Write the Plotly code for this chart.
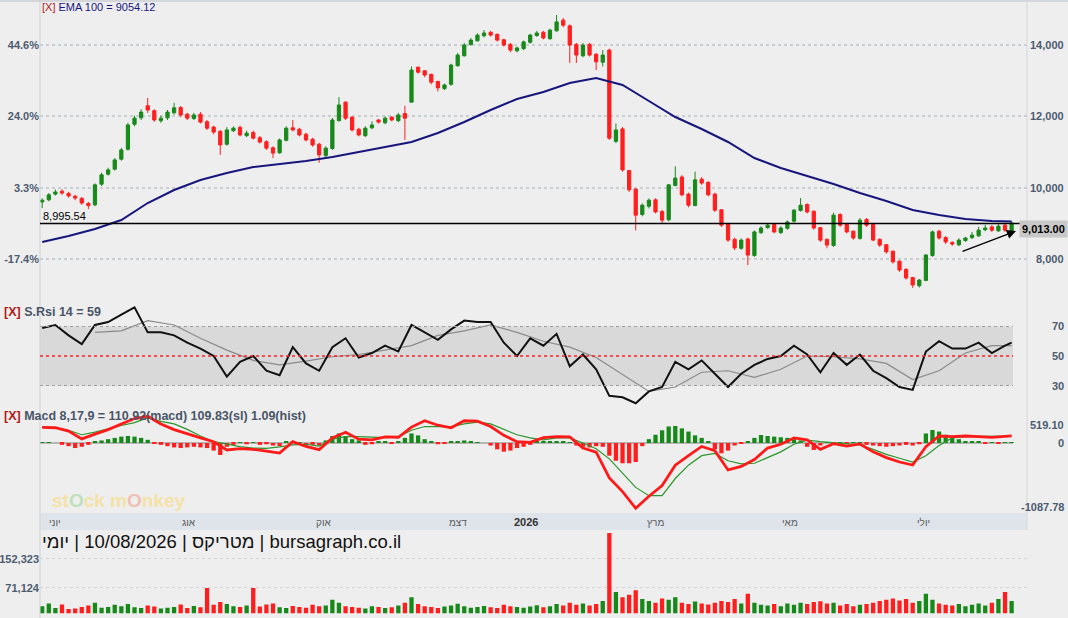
import pandas as pd
import plotly.graph_objects as go

# daily chart, one candle for every 3 calendar days
dates = pd.date_range("2025-05-26", "2026-08-10", freq="3D")

opens = [9600, 9660, 9820, 9900, 9840, 9760, 9700, 9560, 9520, 10100,
         10380, 10520, 10800, 11080, 11780, 11960, 12300, 12160, 11880, 11960,
         12100, 12250, 12060, 11940, 12060, 11850, 11700, 11580, 11220, 11600,
         11690, 11460, 11550, 11400, 11290, 11120, 10980, 11330, 11680, 11640,
         11500, 11360, 11220, 10900, 11100, 11880, 12400, 11980, 11640, 11460,
         11680, 11900, 11820, 11980, 11880, 12080, 12400, 13380, 13280, 13180,
         12980, 12780, 12900, 13420, 13700, 14020, 14120, 14260, 14360, 14300,
         14150, 14020, 13840, 13900, 14080, 14270, 14360, 14180, 14400, 14700,
         14540, 14020, 13700, 14020, 13740, 13520, 13860, 11300, 11650, 10480,
         9960, 9250, 9480, 9660, 9330, 9100, 10060, 10300, 9820, 9500,
         10240, 10150, 9820, 9380, 8980, 8550, 8300, 8560, 8100, 8740,
         8880, 8970, 8740, 8860, 9060, 9360, 9530, 9340, 8880, 8550,
         8380, 9250, 8970, 8780, 8580, 9110, 8970, 8550, 8400, 8220,
         7940, 7710, 7480, 7250, 7400, 8100, 8780, 8600, 8460, 8400,
         8520, 8600, 8650, 8820, 8900, 8790, 8950, 8800]
highs = [9700, 9850, 9950, 9960, 9880, 9800, 9740, 9600, 10120, 10420,
         10560, 10830, 11120, 11820, 12020, 12200, 12520, 12200, 12020, 12180,
         12380, 12290, 12100, 12100, 12120, 11900, 11740, 11620, 11700, 11720,
         11740, 11600, 11600, 11450, 11330, 11160, 11380, 11720, 11900, 11680,
         11540, 11400, 11260, 11160, 11960, 12540, 12420, 12000, 11680, 11720,
         11860, 11920, 12000, 12000, 12100, 12300, 13400, 13400, 13300, 13200,
         13000, 12920, 13480, 13780, 14060, 14200, 14330, 14420, 14400, 14330,
         14180, 14060, 13960, 14130, 14320, 14400, 14400, 14460, 14844, 14760,
         14580, 14060, 14060, 14060, 13780, 13860, 13900, 11800, 11700, 10500,
         9990, 9560, 9700, 9700, 9380, 10100, 10600, 10350, 9860, 10450,
         10300, 10180, 9860, 9400, 9000, 8600, 8580, 8600, 8800, 8920,
         9000, 9000, 8920, 9080, 9400, 9710, 9560, 9360, 8900, 8580,
         9300, 9280, 9000, 8800, 9150, 9150, 9000, 8580, 8420, 8240,
         7960, 7740, 7500, 7440, 8140, 8800, 8820, 8640, 8500, 8580,
         8620, 8760, 8900, 8960, 8950, 8980, 9000, 9060]
lows = [9430, 9620, 9780, 9800, 9720, 9650, 9520, 9400, 9480, 10050,
        10340, 10480, 10760, 11040, 11720, 11900, 12100, 11850, 11820, 11900,
        12050, 11980, 11900, 11900, 11800, 11620, 11500, 10920, 11180, 11560,
        11440, 11420, 11350, 11240, 11060, 10830, 10950, 11300, 11580, 11440,
        11300, 11150, 10700, 10860, 11060, 11860, 11900, 11580, 11440, 11420,
        11640, 11800, 11780, 11860, 11840, 11340, 12400, 13200, 13100, 12900,
        12700, 12740, 12860, 13400, 13680, 13980, 14100, 14220, 14240, 14100,
        13960, 13800, 13800, 13860, 14040, 14230, 14160, 14150, 14380, 14500,
        13500, 13500, 13660, 13680, 13300, 13400, 11340, 11250, 10450, 9880,
        8800, 9200, 9420, 9280, 8980, 9060, 10040, 9760, 9450, 9480,
        10080, 9760, 9320, 8900, 8480, 8250, 8260, 7830, 8060, 8700,
        8850, 8720, 8700, 8820, 9020, 9330, 9280, 8820, 8480, 8300,
        8340, 8900, 8720, 8540, 8540, 8900, 8500, 8340, 8150, 7870,
        7640, 7420, 7190, 7200, 7380, 8060, 8540, 8420, 8370, 8360,
        8480, 8560, 8620, 8780, 8760, 8760, 8760, 8780]
closes = [9650, 9800, 9880, 9850, 9770, 9710, 9570, 9500, 10080, 10360,
          10500, 10780, 11060, 11760, 11950, 12120, 12180, 11900, 11950, 12120,
          12240, 12040, 11950, 12040, 11840, 11670, 11560, 11200, 11620, 11670,
          11480, 11530, 11390, 11280, 11110, 10970, 11340, 11670, 11620, 11480,
          11340, 11200, 10920, 11110, 11900, 12320, 11950, 11620, 11480, 11670,
          11760, 11840, 11950, 11900, 12040, 11950, 13300, 13240, 13160, 12960,
          12800, 12880, 13440, 13720, 14000, 14140, 14280, 14340, 14280, 14140,
          14000, 13860, 13920, 14090, 14280, 14340, 14200, 14420, 14650, 14560,
          14000, 13720, 14000, 13720, 13530, 13720, 11390, 11620, 10500, 9940,
          9230, 9510, 9650, 9320, 9090, 10080, 10270, 9800, 9510, 10220,
          10130, 9800, 9370, 8950, 8530, 8310, 8530, 8110, 8760, 8870,
          8950, 8760, 8870, 9040, 9370, 9510, 9320, 8870, 8530, 8390,
          9230, 8950, 8760, 8590, 9090, 8950, 8530, 8390, 8200, 7920,
          7690, 7470, 7270, 7410, 8110, 8760, 8590, 8480, 8420, 8530,
          8590, 8670, 8810, 8870, 8810, 8920, 8810, 9013]

# EMA 100, read every 4th candle
ema_vals = [8477, 8645, 8842, 9094, 9571, 9935, 10216, 10412, 10581, 10665,
            10749, 10861, 11001, 11142, 11282, 11534, 11843, 12179, 12488, 12684,
            12937, 13077, 12881, 12432, 11983, 11647, 11282, 10833, 10553, 10328,
            10104, 9851, 9627, 9374, 9234, 9122, 9066, 9054.12]
ema_dates = list(dates[::4]) + [dates[-1]]

ref_level = 8995.54
last_price = 9013.00
trend_x = ["2026-07-18", "2026-08-12"]
trend_y = [8196, 8785]

# RSI 14, every 2nd candle, and its moving average every 4th
rsi_vals = [69, 71, 64, 58, 71, 73, 78, 83, 66, 66,
            64, 59, 55, 50, 36, 46, 50, 40, 37, 56,
            45, 40, 56, 62, 49, 52, 57, 53, 71, 66,
            61, 68, 74, 73, 73, 59, 50, 62, 57, 65,
            43, 51, 41, 23, 22, 18, 26, 29, 46, 41,
            47, 38, 29, 38, 44, 48, 50, 57, 51, 39,
            52, 44, 51, 40, 35, 29, 27, 53, 60, 55,
            55, 59, 52, 57, 59]
rsi_dates = list(dates[::2]) + [dates[-1]]
rsi_ma = [66, 67, 74, 71, 62, 54, 47, 44, 46.5, 49.5,
          51, 54, 57, 64, 67, 71, 66, 60, 56, 49,
          37.5, 26, 29, 39, 40, 35.5, 41, 50, 49.5, 48,
          45, 34, 40, 52, 57, 57]
ma_dates = list(dates[8:145:4]) + [dates[-1]]

# MACD 8,17,9
macd_vals = [247, 240, 188, 65, 140, 210, 300, 385, 420, 300,
             210, 140, 80, 20, -110, -90, -100, -130, -160, 21,
             -55, -105, 80, 170, 60, 50, 95, 90, 250, 350,
             280, 240, 350, 345, 260, 120, 21, 10, 85, 100,
             95, -80, -145, -550, -767, -1029, -840, -670, -350, -200,
             -55, -120, -425, -370, -260, -80, -20, 80, 50, -100,
             -10, -50, -16, -140, -230, -300, -347, -60, 110, 100,
             110, 100, 89, 105, 110.92]
signal_vals = [247, 240, 200, 130, 170, 225, 275, 320, 395, 340,
               300, 215, 110, 20, -20, -58, -80, -84, -60, -30,
               -20, -50, 60, 100, 100, 95, 85, 95, 200, 260,
               262, 258, 300, 330, 300, 220, 130, 80, 50, 80,
               80, 0, -90, -250, -478, -700, -830, -830, -560, -350,
               -200, -165, -280, -330, -320, -230, -140, -20, 45, 20,
               0, -10, -30, -100, -180, -240, -300, -200, -40, 80,
               100, 105, 108, 110, 109.83]
hist_vals = [10, 5, 0, -30, -50, -80, -60, -30, 20, 40,
             60, 80, 100, 110, 100, 80, 50, -10, -30, -50,
             -70, -80, -70, -60, -70, -80, -120, -190, -60, -30,
             10, -20, 10, -30, -20, -40, -50, 20, 20, 10,
             -40, -30, -40, 40, 110, 150, 110, 60, 40, -30,
             -20, 20, 20, -10, 20, 80, 150, 120, 60, 20,
             -20, -10, 30, 30, 40, 30, 10, 0, -40, -100,
             -137, -120, -80, -60, -30, 20, 20, 30, 20, 30,
             10, -40, -60, -70, -50, -60, -200, -280, -320, -320,
             -300, -50, 60, 130, 200, 260, 268, 230, 180, 120,
             80, 20, -100, -163, -120, -40, -10, 20, 80, 126,
             110, 100, 90, 80, 60, 40, -60, -110, -40, 10,
             -10, 10, -10, 10, 10, -30, -40, -50, -60, -50,
             -40, -30, -40, -20, 150, 205, 180, 130, 80, 60,
             30, 20, 20, -10, 10, -10, 10, 1.09]

volumes = [20000, 28000, 15000, 25000, 12000, 14000, 18000, 22000, 30000, 16000,
           18000, 24000, 20000, 26000, 17000, 15000, 22000, 19000, 14000, 16000,
           18000, 25000, 15000, 21000, 17000, 71000, 24000, 32000, 26000, 20000,
           18000, 22000, 71000, 19000, 25000, 28000, 17000, 15000, 21000, 18000,
           16000, 24000, 20000, 22000, 38000, 30000, 20000, 18000, 16000, 14000,
           20000, 18000, 15000, 17000, 22000, 30000, 45000, 26000, 20000, 18000,
           15000, 19000, 22000, 27000, 20000, 16000, 18000, 21000, 17000, 15000,
           24000, 20000, 18000, 16000, 19000, 23000, 17000, 20000, 26000, 22000,
           30000, 24000, 28000, 22000, 26000, 35000, 225000, 60000, 45000, 52000,
           65000, 40000, 35000, 30000, 42000, 38000, 45000, 30000, 26000, 33000,
           28000, 25000, 30000, 35000, 32000, 40000, 28000, 55000, 30000, 24000,
           22000, 26000, 20000, 28000, 24000, 30000, 26000, 32000, 34000, 28000,
           30000, 22000, 26000, 20000, 24000, 26000, 30000, 35000, 38000, 42000,
           36000, 40000, 30000, 35000, 55000, 38000, 28000, 24000, 22000, 26000,
           20000, 24000, 28000, 22000, 30000, 40000, 60000, 35000]

price_ticks = [14000, 12000, 10000, 8000]
pct_labels = ["44.6%", "24.0%", "3.3%", "-17.4%"]
rsi_ticks = [70, 50, 30]
vol_ticks = [152323, 71124]
vol_labels = ["152,323", "71,124"]
month_dates = ["2025-06-01", "2025-08-01", "2025-10-01", "2025-12-01", "2026-01-01",
               "2026-03-01", "2026-05-01", "2026-07-01"]
month_labels = ["יוני", "אוג", "אוק", "דצמ", "2026", "מרץ", "מאי", "יולי"]

W, H = 1068, 618
GREEN = "#17891a"
RED = "#ff1e1e"
LABEL = "#4d5b70"


def px(x):
    return x / W


def py(y):
    return 1 - y / H


fig = go.Figure()

fig.add_trace(go.Candlestick(
    x=dates, open=opens, high=highs, low=lows, close=closes,
    increasing=dict(line=dict(color=GREEN, width=1), fillcolor=GREEN),
    decreasing=dict(line=dict(color=RED, width=1), fillcolor=RED),
    whiskerwidth=0, showlegend=False, hoverinfo="skip", xaxis="x", yaxis="y"))
fig.add_trace(go.Scatter(x=ema_dates, y=ema_vals, mode="lines",
                         line=dict(color="#16167c", width=2), showlegend=False,
                         xaxis="x", yaxis="y"))

fig.add_trace(go.Scatter(x=ma_dates, y=rsi_ma, mode="lines",
                         line=dict(color="#8a8a8a", width=1.2), showlegend=False,
                         xaxis="x", yaxis="y2"))
fig.add_trace(go.Scatter(x=rsi_dates, y=rsi_vals, mode="lines",
                         line=dict(color="#111111", width=2), showlegend=False,
                         xaxis="x", yaxis="y2"))

fig.add_trace(go.Bar(x=dates, y=hist_vals,
                     marker=dict(color=[GREEN if v >= 0 else RED for v in hist_vals], line_width=0),
                     showlegend=False, xaxis="x", yaxis="y3"))
fig.add_trace(go.Scatter(x=rsi_dates, y=signal_vals, mode="lines",
                         line=dict(color="#2c962c", width=1.2), showlegend=False,
                         xaxis="x", yaxis="y3"))
fig.add_trace(go.Scatter(x=rsi_dates, y=macd_vals, mode="lines",
                         line=dict(color="#ff1a1a", width=2.8), showlegend=False,
                         xaxis="x", yaxis="y3"))

vol_colors = [GREEN if c >= o else RED for o, c in zip(opens, closes)]
fig.add_trace(go.Bar(x=dates, y=volumes, marker=dict(color=vol_colors, line_width=0),
                     showlegend=False, xaxis="x", yaxis="y4"))

axis_off = dict(showgrid=False, zeroline=False, showline=False, showticklabels=False, ticks="")
tick_font = dict(family="Liberation Sans", size=11, color=LABEL, weight="bold")

fig.update_layout(
    width=W, height=H,
    margin=dict(l=0, r=0, t=0, b=0),
    paper_bgcolor="#eeeeee", plot_bgcolor="#eeeeee",
    font=dict(family="Liberation Sans", size=11, color="#222"),
    bargap=0.35, showlegend=False,
    xaxis=dict(type="date", domain=[px(40), px(1027)], range=["2025-05-25", "2026-08-17"],
               rangeslider=dict(visible=False), anchor="y4", **axis_off),
    yaxis=dict(domain=[py(302), py(1)], range=[6794, 15237], anchor="x",
               tickvals=price_ticks, ticktext=pct_labels, tickfont=tick_font,
               showgrid=True, gridcolor="#c9cdd4", griddash="dot", gridwidth=2,
               zeroline=False, showline=False, ticks=""),
    yaxis2=dict(domain=[py(405), py(303)], range=[16.8, 85.9], anchor="x", **axis_off),
    yaxis3=dict(domain=[py(512), py(407)], range=[-1087.78, 567], anchor="x", **axis_off),
    yaxis4=dict(domain=[py(613.4), py(528)], range=[0, 239000], anchor="x",
                tickvals=vol_ticks, ticktext=vol_labels, tickfont=tick_font,
                showgrid=True, gridcolor="#d0d3d8", griddash="dot", gridwidth=1,
                zeroline=False, showline=False, ticks=""),
)

shapes = [
    dict(type="line", xref="paper", yref="paper", x0=0, x1=1, y0=py(1), y1=py(1),
         line=dict(color="#d3d6db", width=2)),
    dict(type="line", xref="paper", yref="paper", x0=px(40), x1=px(40), y0=0, y1=1,
         line=dict(color="#cfd2d6", width=1)),
    dict(type="line", xref="paper", yref="paper", x0=px(1027), x1=px(1027), y0=py(530), y1=1,
         line=dict(color="#d6d8dc", width=1)),
    dict(type="rect", xref="paper", yref="paper", x0=px(40), x1=px(1027), y0=py(530), y1=py(513),
         fillcolor="#dfe3ea", line_width=0, layer="below"),
    dict(type="line", xref="paper", yref="y", x0=px(40), x1=px(1027), y0=ref_level, y1=ref_level,
         line=dict(color="#000000", width=1.3)),
    dict(type="rect", xref="paper", yref="y2", x0=px(40), x1=px(1013), y0=30, y1=70,
         fillcolor="#d9d9d9", line_width=0, layer="below"),
    dict(type="line", xref="paper", yref="y2", x0=px(40), x1=px(1013), y0=70, y1=70,
         line=dict(color="#a0a0a0", width=1, dash="dot")),
    dict(type="line", xref="paper", yref="y2", x0=px(40), x1=px(1013), y0=30, y1=30,
         line=dict(color="#a0a0a0", width=1, dash="dot")),
    dict(type="line", xref="paper", yref="y2", x0=px(40), x1=px(1013), y0=50, y1=50,
         line=dict(color="#ff2020", width=1.5, dash="dot")),
    dict(type="line", xref="paper", yref="y3", x0=px(40), x1=px(1013), y0=0, y1=0,
         line=dict(color="#a3a3a3", width=1.5), layer="below"),
]

ann = []
ann.append(dict(x=px(40), y=py(7), xref="paper", yref="paper", xanchor="left", yanchor="middle",
                text='<span style="color:#b31b1b">[X]</span> <span style="color:#17177e">EMA 100 = 9054.12</span>',
                showarrow=False, font=dict(size=11)))
ann.append(dict(x=px(2), y=py(312), xref="paper", yref="paper", xanchor="left", yanchor="middle",
                text='<b><span style="color:#b31b1b">[X]</span> <span style="color:#4a5568">S.Rsi 14 = 59</span></b>',
                showarrow=False, font=dict(size=12.5)))
ann.append(dict(x=px(2), y=py(416), xref="paper", yref="paper", xanchor="left", yanchor="middle",
                text='<b><span style="color:#b31b1b">[X]</span> <span style="color:#4a5568">Macd 8,17,9 = 110.92(macd) 109.83(sl) 1.09(hist)</span></b>',
                showarrow=False, font=dict(size=12.5)))
for v in price_ticks:
    ann.append(dict(x=px(1066), y=v, xref="paper", yref="y", xanchor="right", yanchor="middle",
                    text=f"{v:,}", showarrow=False, font=tick_font))
for v in rsi_ticks:
    ann.append(dict(x=px(1066), y=v, xref="paper", yref="y2", xanchor="right", yanchor="middle",
                    text=str(v), showarrow=False, font=tick_font))
for t, ypx in [("519.10", 425), ("0", 443), ("-1087.78", 507)]:
    ann.append(dict(x=px(1066), y=py(ypx), xref="paper", yref="paper", xanchor="right", yanchor="middle",
                    text=t, showarrow=False, font=tick_font))
ann.append(dict(x=px(1068), y=py(229), xref="paper", yref="paper", xanchor="right", yanchor="middle",
                text=f"<b>{last_price:,.2f}</b>", showarrow=False, bgcolor="#c8c8c8", borderpad=2,
                font=dict(size=11, color="#000")))
ann.append(dict(x=px(41), y=ref_level, xref="paper", yref="y", xanchor="left", yanchor="bottom",
                text=f"{ref_level:,.2f}", showarrow=False, font=dict(size=11, color="#000")))
ann.append(dict(x=trend_x[1], y=trend_y[1], ax=trend_x[0], ay=trend_y[0],
                xref="x", yref="y", axref="x", ayref="y", text="", showarrow=True,
                arrowhead=2, arrowsize=1.3, arrowwidth=1.4, arrowcolor="#000"))
for d, lab in zip(month_dates, month_labels):
    bold = lab == "2026"
    ann.append(dict(x=d, y=py(522), xref="x", yref="paper", xanchor="center", yanchor="middle",
                    text=f"<b>{lab}</b>" if bold else lab, showarrow=False,
                    font=dict(size=11 if bold else 10, color="#333" if bold else "#5a5a5a")))
ann.append(dict(x=px(40), y=py(541), xref="paper", yref="paper", xanchor="left", yanchor="middle",
                text="יומי\u200e | 10/08/2026 |\u200e מטריקס\u200e | bursagraph.co.il",
                showarrow=False, font=dict(size=18.5, color="#111")))
ann.append(dict(x=px(50), y=py(500), xref="paper", yref="paper", xanchor="left", yanchor="middle",
                text='<b>st<span style="color:#bfe0bd">O</span>ck m<span style="color:#f0c0b4">O</span>nkey</b>',
                showarrow=False, font=dict(size=19, color="#f4e2a6")))

fig.update_layout(shapes=shapes, annotations=ann)

# the page has a default 8px body margin; remove it so the figure fills the window
fig.write_html("out.html", config={"displayModeBar": False},
               post_script="document.body.style.margin='0';")
